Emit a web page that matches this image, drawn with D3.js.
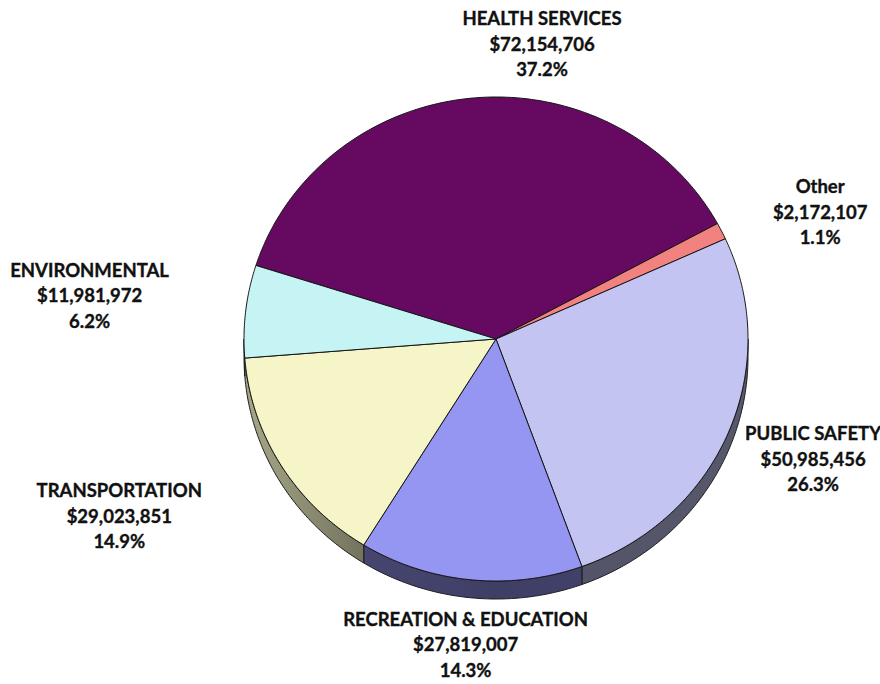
<!DOCTYPE html>
<html><head><meta charset="utf-8">
<script src="https://cdn.jsdelivr.net/npm/d3@7"></script>
<style>
html,body{margin:0;padding:0;background:#fff;}
svg{display:block;}
.lbl{font-family:Lato,"Open Sans",sans-serif;font-weight:700;font-size:18.5px;fill:#111;stroke:#111;stroke-width:0.35px;}
</style></head><body>
<svg id="chart" width="880" height="684"></svg>
<script>
// Budget by function
const categories = ["HEALTH SERVICES", "Other", "PUBLIC SAFETY", "RECREATION & EDUCATION", "TRANSPORTATION", "ENVIRONMENTAL"];
const amounts = [72154706, 2172107, 50985456, 27819007, 29023851, 11981972];
const shareLabels = ["37.2%", "1.1%", "26.3%", "14.3%", "14.9%", "6.2%"];
const colors = ["#660a61", "#f2827f", "#c4c4f3", "#9595f2", "#f5f5c8", "#c6f4f4"];

// geometry of the tilted disc
const cx = 496, cy = 339, rx = 252, ry = 242, depth = 18;
const startDeg = -72.3;
const labelRadius = 1.18, lineGap = 25.5;
const labelNudge = [[74, -10], [58, 1], [43, 10], [0, 22], [-123, 29], [-111, -10]];

const svg = d3.select("#chart");
const defs = svg.append("defs");

const a0 = startDeg * Math.PI / 180;
const pie = d3.pie().sort(null).value(d => d).startAngle(a0).endAngle(a0 + 2 * Math.PI);
const arcs = pie(amounts);

// angle measured clockwise from 12 o'clock, projected onto the ellipse
const px = (a, k = 1) => cx + rx * k * Math.sin(a);
const py = (a, k = 1) => cy - ry * k * Math.cos(a);
const rim = (s, e, dy = 0) => {
  const n = Math.max(2, Math.ceil(Math.abs(e - s) / (Math.PI / 360)));
  return d3.range(n + 1).map(i => { const a = s + (e - s) * i / n; return [px(a), py(a) + dy]; });
};
const pathLine = d3.line();
const shade = (c, f) => { const r = d3.rgb(c); return d3.rgb(r.r * f, r.g * f, r.b * f).formatHex(); };

// side wall gradients: lit from the left, darker toward the front and right
arcs.forEach((d, i) => {
  const g = defs.append("linearGradient").attr("id", "side" + i)
    .attr("gradientUnits", "userSpaceOnUse")
    .attr("x1", cx - rx).attr("x2", cx + rx).attr("y1", 0).attr("y2", 0);
  [[0, 0.68], [0.25, 0.46], [0.5, 0.42], [1, 0.45]].forEach(([o, f]) =>
    g.append("stop").attr("offset", o).attr("stop-color", shade(colors[i], f)));
});

// visible side walls: front half of the rim (from 3 o'clock round to 9 o'clock)
const frontS = Math.PI / 2, frontE = 3 * Math.PI / 2;
const wallLayer = svg.append("g");
arcs.forEach((d, i) => {
  const s = Math.max(d.startAngle, frontS), e = Math.min(d.endAngle, frontE);
  if (e <= s) return;
  const pts = rim(s, e).concat(rim(e, s, depth));
  wallLayer.append("path").attr("d", pathLine(pts) + "Z")
    .attr("fill", `url(#side${i})`)
    .attr("stroke", "#1b1b1b").attr("stroke-width", 1).attr("stroke-linejoin", "round");
});

// top faces
const faceLayer = svg.append("g");
arcs.forEach((d, i) => {
  const pts = [[cx, cy]].concat(rim(d.startAngle, d.endAngle));
  faceLayer.append("path").attr("d", pathLine(pts) + "Z")
    .attr("fill", colors[i])
    .attr("stroke", "#151515").attr("stroke-width", 1).attr("stroke-linejoin", "round");
});

// data labels
const money = d3.format("$,");
const labelLayer = svg.append("g");
arcs.forEach((d, i) => {
  const mid = (d.startAngle + d.endAngle) / 2;
  const x = px(mid, labelRadius) + labelNudge[i][0];
  const y = py(mid, labelRadius) + labelNudge[i][1];
  const t = labelLayer.append("text").attr("class", "lbl").attr("text-anchor", "middle");
  [categories[i], money(amounts[i]), shareLabels[i]].forEach((s, j) =>
    t.append("tspan").attr("x", x).attr("y", y + 6 + (j - 1) * lineGap).text(s));
});
</script>
</body></html>
